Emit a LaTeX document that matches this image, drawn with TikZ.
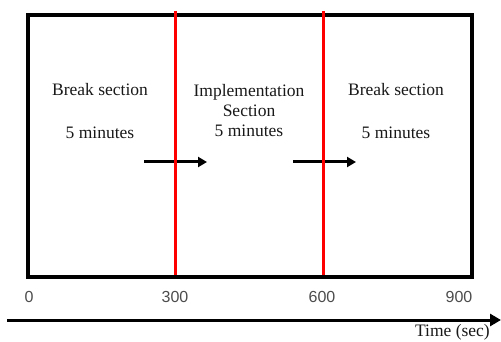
\documentclass[tikz,border=0pt]{standalone}
\usepackage{fontspec}
\setmainfont{Liberation Serif}
\newfontfamily\numfont{Liberation Sans}
\usetikzlibrary{arrows.meta, positioning}
\usepackage{xcolor}

\begin{document}
\begin{tikzpicture}[x=1pt, y=-1pt]
                \tikzstyle{sectext} = [font=\fontsize{17.5}{20}\selectfont, align=center, text=black!90, inner sep=0pt];
                \tikzstyle{ticktext} = [font=\numfont\fontsize{16}{19}\selectfont, text=black!70, inner sep=0pt];
                \tikzstyle{divider} = [draw=red, line width=3pt];
                \tikzstyle{moveon} = [-{Triangle[length=9pt,width=10pt]}, line width=3pt];

                \useasboundingbox (0,0) rectangle (501,342);

                \node[draw, line width=4pt, minimum width=444pt, minimum height=262pt, inner sep=0pt, anchor=north west](frame) at (26,13) {};

                \node[sectext](brkA) at (100,90) {Break section};
                \node[sectext](minA) at (100,133) {5 minutes};
                \node[sectext](impl) at (249,111) {Implementation\\Section\\5 minutes};
                \node[sectext](brkB) at (396,90) {Break section};
                \node[sectext](minB) at (396,133) {5 minutes};

                \coordinate (a1s) at (144,162);
                \coordinate (a1e) at (207,162);
                \coordinate (a2s) at (293,162);
                \coordinate (a2e) at (356,162);

                \draw[moveon] (a1s) -- (a1e);
                \draw[moveon] (a2s) -- (a2e);

                \coordinate (r1t) at (175,11);
                \coordinate (r1b) at (175,275);
                \coordinate (r2t) at (323,11);
                \coordinate (r2b) at (323,275);

                \draw[divider] (r1t) -- (r1b);
                \draw[divider] (r2t) -- (r2b);

                \node[ticktext](t0) at (29,297) {0};
                \node[ticktext](t300) at (175,297) {300};
                \node[ticktext](t600) at (322,297) {600};
                \node[ticktext](t900) at (459,297) {900};

                \coordinate (ax0) at (7,320);
                \coordinate (ax1) at (501,320);
                \draw[-{Triangle[length=11pt,width=12pt]}, line width=3pt] (ax0) -- (ax1);

                \node[sectext, font=\fontsize{17.5}{20}\selectfont, anchor=east](time) at (490,332) {Time (sec)};
            \end{tikzpicture}
\end{document}
